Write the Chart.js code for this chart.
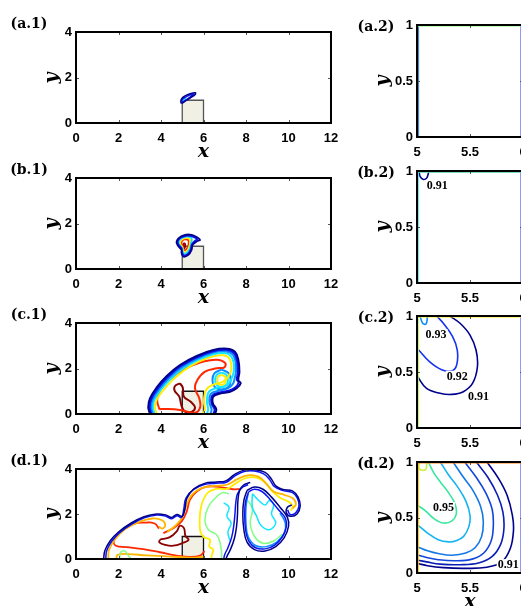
<!DOCTYPE html>
<html>
<head>
<meta charset="utf-8">
<script src="https://cdn.jsdelivr.net/npm/chart.js@4.4.0/dist/chart.umd.min.js"></script>
<style>
html, body { margin: 0; padding: 0; overflow: hidden; background: #fff; }
body { position: relative; width: 521px; height: 606px; }
canvas { position: absolute; }
.lab { position: absolute; font: bold 14px "DejaVu Serif"; color: #000; white-space: nowrap; z-index: 2; }
.ax { position: absolute; font: italic bold 19px "DejaVu Serif"; color: #000; z-index: 2; line-height: 1; }
</style>
</head>
<body>
<script>
// ticks and labels
const leftXTicks = [0, 2, 4, 6, 8, 10, 12];
const leftYTicks = [0, 2, 4];
const rightXTicks = [5, 5.5, 6];
const rightYTicks = [0, 0.5, 1];
const panelLabels = ['(a.1)', '(a.2)', '(b.1)', '(b.2)', '(c.1)', '(c.2)', '(d.1)', '(d.2)'];

// obstacle (square block)
const obstacle = [[5, 0], [5, 1], [6, 1], [6, 0]];

// (a.1) contours
const a1Navy = [[4.92,0.92],[4.98,1.08],[5.15,1.2],[5.4,1.3],[5.62,1.33],[5.6,1.24],[5.4,1.12],[5.2,1.0],[5.05,0.9],[4.95,0.88],[4.92,0.92]];
const a1Blue = [[4.96,0.94],[5.02,1.06],[5.18,1.15],[5.42,1.25],[5.55,1.27],[5.4,1.16],[5.18,1.02],[5.02,0.92],[4.96,0.94]];
const a1Cyan = [[4.98,0.95],[5.04,1.04],[5.15,1.08],[5.12,0.99],[5.03,0.93],[4.98,0.95]];
const a1Yellow = [[5.0,0.96],[5.03,1.02],[5.08,1.01],[5.06,0.96],[5.0,0.96]];
const a1Red = [[5.01,0.97],[5.03,1.0],[5.05,0.98],[5.01,0.97]];

// (a.2) contours hugging the block edges
const a2Yellow = [[5.004,0],[5.004,0.996],[6,0.996]];
const a2Green = [[5.009,0],[5.009,0.991],[6,0.991]];
const a2Blue = [[5.015,0],[5.015,0.988]];
const a2Edge = [[5.978,0],[5.978,0.99]];

// (b.1) contours
const b1Navy = [[4.97,0.84],[4.74,1.13],[4.82,1.35],[5.13,1.5],[5.44,1.5],[5.68,1.4],[5.84,1.28],[5.68,1.21],[5.49,1.06],[5.44,0.84],[5.29,0.62],[5.05,0.54],[4.97,0.69],[4.97,0.84]];
const b1Blue = [[4.98,0.9],[4.79,1.13],[4.86,1.32],[5.13,1.45],[5.42,1.45],[5.62,1.37],[5.72,1.3],[5.62,1.26],[5.45,1.08],[5.4,0.86],[5.26,0.66],[5.08,0.6],[5.0,0.72],[4.98,0.9]];
const b1Cyan = [[5.0,0.92],[4.84,1.12],[4.9,1.3],[5.13,1.41],[5.38,1.4],[5.45,1.3],[5.4,1.1],[5.35,0.88],[5.22,0.72],[5.08,0.68],[5.02,0.78],[5.0,0.92]];
const b1Yellow = [[5.02,0.94],[4.9,1.12],[4.95,1.27],[5.13,1.36],[5.33,1.34],[5.38,1.2],[5.33,1.0],[5.25,0.82],[5.12,0.75],[5.04,0.82],[5.02,0.94]];
const b1Red = [[5.04,0.96],[4.96,1.12],[5.0,1.24],[5.14,1.3],[5.28,1.27],[5.3,1.12],[5.25,0.95],[5.16,0.83],[5.07,0.84],[5.04,0.96]];
const b1Maroon = [[5.06,0.98],[5.05,1.1],[5.12,1.12],[5.14,1.02],[5.1,0.9],[5.06,0.98]];

// (b.2) contours
const b2Gold = [[5.004,0],[5.004,0.995],[6,0.995]];
const b2Cyan = [[5.01,0],[5.01,0.99],[6,0.99]];
const b2Navy = [[5.02,0.995],[5.03,0.95],[5.06,0.925],[5.09,0.935],[5.105,0.97],[5.11,0.995]];
const b2Edge = [[5.978,0],[5.978,0.99]];

// (c.1) contours
const c1Navy = [[3.48,0.0],[3.40,0.30],[3.48,0.69],[3.80,1.17],[4.27,1.67],[4.89,2.15],[5.68,2.55],[6.46,2.81],[7.09,2.87],[7.48,2.74],[7.64,2.37],[7.69,1.86],[7.64,1.49],[7.75,1.35],[7.56,1.13],[7.25,0.98],[6.78,0.90],[6.46,0.76],[6.44,0.47],[6.60,0.21],[6.54,0.0]];
const c1Blue = [[3.55,0.0],[3.47,0.30],[3.55,0.68],[3.87,1.15],[4.33,1.64],[4.94,2.11],[5.71,2.50],[6.46,2.76],[7.07,2.82],[7.43,2.68],[7.58,2.34],[7.62,1.86],[7.57,1.51],[7.65,1.38],[7.49,1.16],[7.22,1.03],[6.76,0.95],[6.41,0.81],[6.38,0.47],[6.52,0.2],[6.46,0.0]];
const c1Azure = [[3.62,0.0],[3.54,0.30],[3.62,0.67],[3.94,1.13],[4.39,1.60],[4.99,2.06],[5.74,2.45],[6.46,2.70],[7.04,2.76],[7.37,2.62],[7.51,2.30],[7.53,1.88],[7.47,1.58],[7.38,1.32],[7.16,1.14],[6.76,1.04],[6.34,0.88],[6.28,0.50],[6.38,0.2],[6.32,0.0]];
const c1Cyan = [[3.70,0.0],[3.62,0.30],[3.70,0.66],[4.02,1.10],[4.46,1.55],[5.04,2.00],[5.77,2.39],[6.46,2.63],[7.00,2.68],[7.29,2.55],[7.42,2.26],[7.43,1.90],[7.35,1.62],[7.22,1.38],[7.0,1.22],[6.62,1.14],[6.26,0.98],[6.16,0.55],[6.22,0.2],[6.15,0.0]];
const c1Yellow = [[3.80,0.0],[3.72,0.30],[3.80,0.64],[4.12,1.06],[4.55,1.50],[5.10,1.93],[5.80,2.31],[6.46,2.54],[6.95,2.58],[7.2,2.46],[7.3,2.2],[7.3,1.92],[7.2,1.68],[7.04,1.50],[6.82,1.38],[6.5,1.30],[6.15,1.1],[6.02,0.6],[6.06,0.2],[5.98,0.0]];
const c1RingAzure = [[6.85,1.95],[7.18,1.8],[7.28,1.5],[7.18,1.2],[6.85,1.08],[6.52,1.2],[6.42,1.5],[6.52,1.8],[6.85,1.95]];
const c1RingCyan = [[6.85,1.82],[7.08,1.72],[7.15,1.5],[7.08,1.28],[6.85,1.18],[6.62,1.28],[6.55,1.5],[6.62,1.72],[6.85,1.82]];
const c1RingYellow = [[6.85,1.72],[7.0,1.65],[7.05,1.5],[7.0,1.35],[6.85,1.28],[6.7,1.35],[6.65,1.5],[6.7,1.65],[6.85,1.72]];
const c1Red = [[3.92,0.21],[3.82,0.62],[3.95,1.06],[4.40,1.52],[5.08,1.96],[5.84,2.26],[6.62,2.38],[7.02,2.24],[6.98,2.05],[6.62,2.01],[6.07,1.86],[5.71,1.49],[5.60,1.13],[5.80,0.69],[5.84,0.29],[5.60,0.05],[4.89,0.18],[4.2,0.22],[3.92,0.21]];
const c1Maroon = [[4.89,1.35],[5.02,1.17],[5.08,0.76],[5.40,0.54],[5.60,0.29],[5.44,0.09],[5.13,0.10],[4.97,0.35],[4.86,0.76],[4.64,1.03],[4.66,1.23],[4.89,1.35]];

// (c.2) contours
const c2Red = [[5.003,0],[5.003,0.997],[6,0.997]];
const c2Yellow = [[5.007,0],[5.007,0.993],[6,0.993]];
const c2Green = [[5.011,0],[5.011,0.99]];
const c2L091 = [[5.006,0.458],[5.09,0.354],[5.217,0.31],[5.327,0.30],[5.437,0.324],[5.525,0.40],[5.57,0.547],[5.557,0.696],[5.50,0.83],[5.406,0.935],[5.311,1.0]];
const c2L092 = [[5.016,0.696],[5.12,0.59],[5.233,0.52],[5.327,0.509],[5.374,0.5625],[5.38,0.696],[5.336,0.815],[5.248,0.935],[5.186,1.0]];
const c2L093 = [[5.028,1.0],[5.054,0.935],[5.085,0.929],[5.097,0.98],[5.097,1.0]];
const c2Edge = [[5.978,0],[5.978,0.99]];

// (d.1) contours
const d1Navy = [[1.30,0.0],[1.36,0.38],[1.62,0.82],[2.0,1.2],[2.6,1.6],[3.2,1.88],[3.8,2.0],[4.25,1.95],[4.5,1.85],[4.75,1.98],[5.0,1.9],[5.12,2.2],[5.22,2.7],[5.55,3.12],[6.05,3.36],[6.6,3.42],[7.05,3.47],[7.45,3.75],[7.9,3.95],[8.4,3.97],[8.9,3.85],[9.2,3.55],[9.4,3.25],[9.7,3.1],[10.2,3.02],[10.45,2.75],[10.55,2.35],[10.4,2.0],[10.1,1.9],[9.9,2.05],[9.95,2.3],[10.15,2.4]];
const d1NavyMid = [[8.2,3.4],[7.9,3.3],[7.7,3.05],[7.62,2.6],[7.6,2.0],[7.55,1.4],[7.45,0.9],[7.28,0.45],[7.12,0.15],[7.05,0.0]];
const d1NavyBlob = [[8.05,3.05],[7.9,2.6],[7.85,2.0],[7.9,1.3],[8.05,0.75],[8.4,0.42],[8.9,0.36],[9.4,0.55],[9.8,0.95],[10.0,1.45],[9.95,1.85],[9.6,2.3],[9.2,2.75],[8.8,3.1],[8.4,3.2],[8.05,3.05]];
const d1Blue = [[1.40,0],[1.44,0.36],[1.68,0.79],[2.04,1.16],[2.62,1.55],[3.21,1.83],[3.8,1.95],[4.23,1.9],[4.5,1.79],[4.75,1.92],[4.97,1.85],[5.07,2.2],[5.17,2.7],[5.52,3.08],[6.03,3.31],[6.6,3.37],[7.07,3.41],[7.48,3.69],[7.91,3.89],[8.4,3.91],[8.83,3.78],[9.12,3.52],[9.33,3.22],[9.7,3.05],[10.17,2.96],[10.41,2.72],[10.49,2.35],[10.34,2.05],[10.08,1.98],[9.96,2.18]];
const d1BlueMid = [[8.1,3.3],[7.85,3.2],[7.6,2.9],[7.52,2.5],[7.48,2.0],[7.42,1.45],[7.32,0.95],[7.15,0.5],[7.0,0.2],[6.95,0.0]];
const d1BlueBlob = [[8.12,2.98],[7.98,2.55],[7.94,2.0],[7.98,1.3],[8.12,0.82],[8.45,0.5],[8.9,0.45],[9.35,0.62],[9.72,1.0],[9.9,1.45],[9.85,1.82],[9.5,2.22],[9.1,2.68],[8.75,3.0],[8.4,3.1],[8.12,2.98]];
const d1AzureBlob = [[8.1,2.9],[8.0,2.3],[8.0,1.6],[8.1,1.0],[8.45,0.6],[8.95,0.55],[9.45,0.75],[9.8,1.15],[9.85,1.6],[9.6,2.05]];
const d1CyanBlob = [[8.3,2.9],[8.6,2.6],[8.9,2.4],[9.1,2.6],[9.3,2.4],[9.2,2.0],[9.4,1.6],[9.1,1.3],[8.7,1.5],[8.5,1.9],[8.3,2.3],[8.3,2.9]];
const d1CyanMid = [[6.95,2.5],[7.2,2.3],[7.1,1.9],[7.3,1.6],[7.15,1.2],[7.25,0.8]];
const d1GreenMid = [[6.85,0.0],[6.85,0.27],[6.78,0.71],[6.62,1.08],[6.23,1.30],[6.07,1.74],[6.23,2.33],[6.62,2.77],[6.9,2.95],[7.2,2.9]];
const d1GreenBlob = [[8.1,2.6],[8.3,2.2],[8.2,1.6],[8.4,1.0],[8.8,0.7],[9.3,0.8],[9.7,1.1]];
const d1GreenLow = [[2.05,0],[2.1,0.3],[2.3,0.35],[2.5,0.1],[2.6,0]];
const d1Gold = [[1.52,0],[1.55,0.4],[1.84,0.88],[2.3,1.32],[2.95,1.64],[3.6,1.8],[4.05,1.72],[4.2,1.5],[4.05,1.35],[3.9,1.45]];
const d1GoldBand = [[4.3,1.2],[4.7,1.5],[5.0,1.85],[5.2,2.4],[5.45,2.85],[5.9,3.15],[6.5,3.25],[7.1,3.3],[7.6,3.55],[8.1,3.72],[8.6,3.65],[8.95,3.35],[9.3,3.0],[9.8,2.85],[10.2,2.7],[10.35,2.45],[10.2,2.25]];
const d1Yellow = [[6.38,0.0],[6.38,0.15],[6.46,0.41],[6.27,0.56],[6.31,0.86],[6.02,0.97],[5.86,1.2],[5.82,1.7],[5.86,2.2],[5.98,2.6],[6.2,2.95],[6.6,3.12],[7.1,3.12],[7.5,3.35],[8.0,3.6],[8.5,3.62],[8.9,3.4],[9.2,3.05],[9.6,2.72],[10.0,2.55],[10.2,2.35],[10.1,2.15]];
const d1YellowLow = [[1.9,0],[1.95,0.18],[2.5,0.22],[3.3,0.16],[4.3,0.12],[5.0,0.08],[5.6,0.06],[6.0,0.1]];
const d1Red = [[3.9,1.35],[3.75,1.55],[3.55,1.62],[3.33,1.62],[2.70,1.56],[2.15,1.23],[1.79,0.83],[1.88,0.59],[2.38,0.53],[3.17,0.44],[3.95,0.30],[4.74,0.15],[5.36,0.09],[5.84,0.15],[6.05,0.35]];
const d1RedBand = [[4.11,1.15],[4.58,1.37],[4.97,1.67],[5.21,2.11],[5.36,2.63],[5.68,3.0],[6.15,3.22],[6.78,3.19],[7.40,3.10],[7.72,3.11]];
const d1Maroon = [[3.95,0.86],[4.42,0.97],[4.74,1.23],[4.89,1.48],[5.08,1.37],[5.15,1.03],[5.3,0.85],[5.02,0.71],[4.58,0.59],[4.19,0.63],[3.92,0.74],[3.95,0.86]];

// (d.2) contours
const d2Red = [[5.003,0],[5.003,0.997],[6,0.997]];
const d2Orange = [[5.007,0],[5.007,0.993],[6,0.993]];
const d2Yellow = [[5.011,0],[5.011,0.99]];
const d2Corner = [[5.02,1.0],[5.02,0.94],[5.05,0.925],[5.085,0.935],[5.09,1.0]];
const d2L095 = [[5.107,1.0],[5.16,0.9],[5.22,0.82],[5.30,0.72],[5.36,0.62],[5.37,0.53],[5.33,0.47],[5.25,0.45],[5.16,0.49],[5.08,0.56],[5.01,0.607]];
const d2L094 = [[5.22,1.0],[5.30,0.88],[5.38,0.78],[5.46,0.65],[5.50,0.52],[5.49,0.42],[5.44,0.33],[5.37,0.29],[5.30,0.28],[5.20,0.30],[5.10,0.36],[5.01,0.43]];
const d2L093 = [[5.34,1.0],[5.44,0.86],[5.53,0.74],[5.60,0.60],[5.625,0.47],[5.61,0.33],[5.55,0.23],[5.46,0.18],[5.33,0.16],[5.20,0.175],[5.10,0.20],[5.01,0.235]];
const d2L092 = [[5.45,1.0],[5.56,0.86],[5.65,0.72],[5.71,0.57],[5.72,0.43],[5.70,0.29],[5.63,0.18],[5.52,0.125],[5.36,0.11],[5.20,0.12],[5.09,0.14],[5.01,0.16]];
const d2L0915 = [[5.56,1.0],[5.67,0.86],[5.76,0.70],[5.81,0.55],[5.82,0.40],[5.79,0.26],[5.71,0.15],[5.58,0.09],[5.40,0.075],[5.22,0.08],[5.09,0.10],[5.01,0.115]];
const d2L091 = [[5.66,1.0],[5.77,0.85],[5.85,0.70],[5.90,0.52],[5.91,0.38],[5.88,0.22],[5.80,0.10],[5.66,0.052],[5.45,0.042],[5.25,0.048],[5.10,0.065],[5.01,0.086]];
const d2Edge = [[5.978,0],[5.978,0.99]];

// colours (jet-like)
const C = {
  navy: '#00008c', blue: '#0a14f0', azure: '#0a8cff', cyan: '#14e6ff', green: '#82ff82',
  yellow: '#ffec00', gold: '#ffb400', orange: '#ff7800', red: '#ff2800', maroon: '#8c0000',
  edge: '#9090f8', block: '#f0f0e4'
};

function L(pts, c, w, t) { return { pts, c, w: w || 1.8, t: t === undefined ? 0.4 : t }; }
function block(edge) { return { pts: obstacle, c: edge, w: 1.3, t: 0, fill: C.block }; }

const panels = [
  { side: 'L', top: 32, bottom: 123, label: panelLabels[0], xTitle: true, sets: [
    block('#555'), L(a1Navy, C.navy, 1.5), L(a1Blue, C.blue, 1.5), L(a1Cyan, C.cyan, 1.5), L(a1Yellow, C.yellow, 1.5), L(a1Red, C.red, 2.5) ] },
  { side: 'R', top: 25, bottom: 137, label: panelLabels[1], sets: [
    L(a2Yellow, C.gold, 1, 0), L(a2Green, C.green, 1, 0), L(a2Blue, C.blue, 1, 0), L(a2Edge, C.edge, 1.2, 0) ] },
  { side: 'L', top: 178, bottom: 269, label: panelLabels[2], xTitle: true, sets: [
    block('#555'), L(b1Navy, C.navy), L(b1Blue, C.blue), L(b1Cyan, C.cyan), L(b1Yellow, C.yellow), L(b1Red, C.red), L(b1Maroon, C.maroon) ] },
  { side: 'R', top: 171, bottom: 283, label: panelLabels[3], sets: [
    L(b2Gold, C.gold, 1.3, 0), L(b2Cyan, C.cyan, 1.2, 0), L(b2Navy, C.navy, 1.6), L(b2Edge, C.edge, 1.2, 0) ],
    texts: [['0.91', 5.19, 0.865]] },
  { side: 'L', top: 323, bottom: 414, label: panelLabels[4], xTitle: true, sets: [
    block('#111'), L(c1Navy, C.navy, 2), L(c1Blue, C.blue, 2), L(c1Azure, C.azure, 2), L(c1Cyan, C.cyan, 2), L(c1Yellow, C.yellow, 2),
    L(c1RingAzure, C.azure, 2), L(c1RingCyan, C.cyan, 2), L(c1RingYellow, C.yellow, 2), L(c1Red, C.red, 2), L(c1Maroon, C.maroon, 2) ] },
  { side: 'R', top: 316, bottom: 428, label: panelLabels[5], sets: [
    L(c2Red, C.orange, 1.3, 0), L(c2Yellow, C.yellow, 1.2, 0), L(c2Green, C.green, 1.2, 0),
    L(c2L091, C.navy, 1.6), L(c2L092, '#1432f0', 1.6), L(c2L093, C.azure, 1.6), L(c2Edge, C.edge, 1.2, 0) ],
    texts: [['0.93', 5.18, 0.83], ['0.92', 5.38, 0.458], ['0.91', 5.58, 0.28]] },
  { side: 'L', top: 469, bottom: 559, label: panelLabels[6], xTitle: true, sets: [
    block('#111'), L(d1NavyBlob, C.navy, 1.5), L(d1BlueBlob, C.blue, 1.5), L(d1AzureBlob, C.azure, 1.5), L(d1CyanBlob, C.cyan, 1.5),
    L(d1GreenBlob, C.green, 1.5), L(d1Navy, C.navy, 1.5), L(d1Blue, C.blue, 1.5), L(d1NavyMid, C.navy, 1.5), L(d1BlueMid, C.blue, 1.5),
    L(d1CyanMid, C.cyan, 1.5), L(d1GreenMid, C.green, 1.5), L(d1GreenLow, C.green, 1.5), L(d1Gold, C.gold, 1.8), L(d1GoldBand, C.gold, 1.8),
    L(d1Yellow, C.yellow, 1.8), L(d1YellowLow, C.gold, 1.8), L(d1Red, C.red, 1.8), L(d1RedBand, C.red, 1.8), L(d1Maroon, C.maroon, 1.8) ] },
  { side: 'R', top: 462, bottom: 573, label: panelLabels[7], xTitle: true, sets: [
    L(d2Red, C.red, 1.3, 0), L(d2Orange, C.orange, 1.2, 0), L(d2Yellow, C.yellow, 1.2, 0), L(d2Corner, '#c8f03c', 1.6),
    L(d2L095, '#3ce6a0', 1.6), L(d2L094, '#14b4f0', 1.6), L(d2L093, '#1478e6', 1.6), L(d2L092, '#1446dc', 1.6),
    L(d2L0915, '#0a1eb4', 1.6), L(d2L091, '#00008c', 1.6), L(d2Edge, C.edge, 1.2, 0) ],
    texts: [['0.95', 5.25, 0.585], ['0.91', 5.86, 0.071]] }
];

const tickFont = { family: '"Liberation Sans", Arial, sans-serif', size: 13, weight: 'bold' };
Chart.defaults.color = '#000';

// box, inward ticks and contour labels
const frame = {
  id: 'frame',
  afterDatasetsDraw(chart) {
    const { ctx, chartArea: a, scales: { x, y } } = chart;
    ctx.save();
    ctx.strokeStyle = '#555';
    ctx.lineWidth = 1;
    ctx.beginPath();
    x.ticks.forEach(t => {
      const px = Math.round(x.getPixelForValue(t.value)) + 0.5;
      ctx.moveTo(px, a.bottom); ctx.lineTo(px, a.bottom - 3);
      ctx.moveTo(px, a.top); ctx.lineTo(px, a.top + 3);
    });
    y.ticks.forEach(t => {
      const py = Math.round(y.getPixelForValue(t.value)) + 0.5;
      ctx.moveTo(a.left, py); ctx.lineTo(a.left + 3, py);
      ctx.moveTo(a.right, py); ctx.lineTo(a.right - 3, py);
    });
    ctx.stroke();
    ctx.strokeStyle = '#000';
    ctx.lineWidth = 2;
    ctx.strokeRect(a.left, a.top, a.right - a.left, a.bottom - a.top);
    const texts = chart.options.plugins.frame.texts || [];
    ctx.font = 'bold 12px "Liberation Serif", serif';
    ctx.textAlign = 'center';
    ctx.textBaseline = 'middle';
    texts.forEach(([s, vx, vy]) => {
      const px = x.getPixelForValue(vx), py = y.getPixelForValue(vy);
      const w = ctx.measureText(s).width;
      ctx.fillStyle = '#fff';
      ctx.fillRect(px - w / 2 - 1, py - 6, w + 2, 12);
      ctx.fillStyle = '#000';
      ctx.fillText(s, px, py);
    });
    ctx.restore();
  }
};

function addText(txt, cls, cx, cy, rot) {
  const d = document.createElement('div');
  d.className = cls;
  d.textContent = txt;
  d.style.left = cx + 'px';
  d.style.top = cy + 'px';
  d.style.transform = 'translate(-50%,-50%)' + (rot ? ' rotate(-90deg)' : '');
  document.body.appendChild(d);
}

panels.forEach(p => {
  const left = p.side === 'L';
  const yW = left ? 76 : 77, plotW = left ? 255 : 106, padR = 20, padT = 12, xH = 40;
  const plotH = p.bottom - p.top;
  const cv = document.createElement('canvas');
  cv.width = yW + plotW + padR;
  cv.height = padT + plotH + xH;
  const x0 = left ? 0 : 340;
  cv.style.left = x0 + 'px';
  cv.style.top = (p.top - padT) + 'px';
  document.body.appendChild(cv);

  const xt = left ? leftXTicks : rightXTicks;
  const yt = left ? leftYTicks : rightYTicks;
  new Chart(cv, {
    type: 'line',
    data: {
      datasets: p.sets.map(s => ({
        data: s.pts.map(([vx, vy]) => ({ x: vx, y: vy })),
        borderColor: s.c,
        borderWidth: s.w,
        tension: s.t,
        pointRadius: 0,
        fill: s.fill ? 'origin' : false,
        backgroundColor: s.fill || 'transparent',
        order: s.fill ? 10 : 1
      }))
    },
    options: {
      responsive: false,
      animation: false,
      layout: { padding: { top: padT, right: padR, left: 0, bottom: 0 } },
      plugins: { legend: { display: false }, tooltip: { enabled: false }, frame: { texts: p.texts } },
      scales: {
        x: {
          type: 'linear', min: xt[0], max: xt[xt.length - 1],
          afterBuildTicks: s => { s.ticks = xt.map(v => ({ value: v })); },
          afterFit: s => { s.height = xH; },
          grid: { display: false, drawTicks: false },
          border: { display: false },
          ticks: { padding: 8, maxRotation: 0, autoSkip: false, font: tickFont, color: '#000', callback: v => String(v) }
        },
        y: {
          type: 'linear', min: yt[0], max: yt[yt.length - 1],
          afterBuildTicks: s => { s.ticks = yt.map(v => ({ value: v })); },
          afterFit: s => { s.width = yW; },
          grid: { display: false, drawTicks: false },
          border: { display: false },
          ticks: { padding: 4, autoSkip: false, font: tickFont, color: '#000', callback: v => String(v) }
        }
      }
    },
    plugins: [frame]
  });

  const lx = left ? 29 : 376;
  addText(p.label, 'lab', lx, p.top - (left ? 9 : 0) + (left ? 0 : 1));
  const mid = (p.top + p.bottom) / 2;
  addText('y', 'ax', left ? 50 : 381, mid, true);
  if (p.xTitle) addText('x', 'ax', x0 + yW + plotW / 2, p.bottom + 27);
});
</script>
</body>
</html>
